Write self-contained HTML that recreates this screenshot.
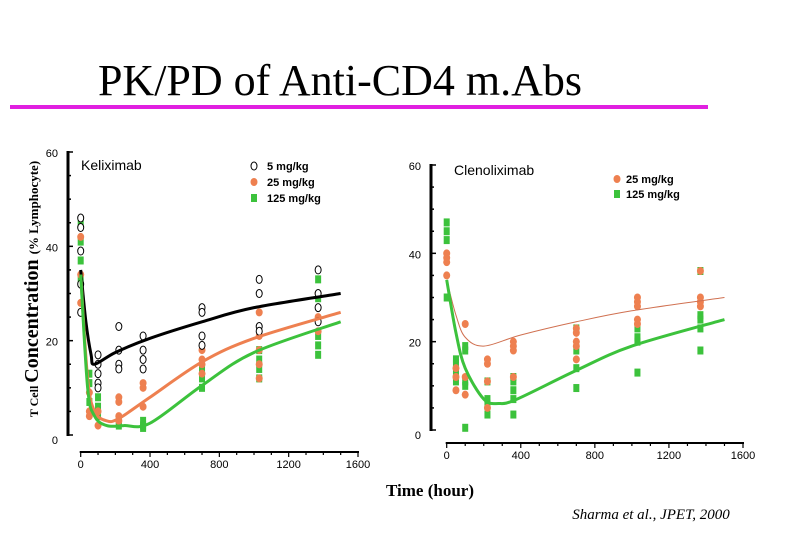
<!DOCTYPE html>
<html><head><meta charset="utf-8"><style>
body{margin:0;background:#fff}
svg{display:block}
text{font-family:"Liberation Sans",Arial,sans-serif}
</style></head><body>
<svg id="c" width="810" height="540" xmlns="http://www.w3.org/2000/svg">
<text x="340" y="95" text-anchor="middle" font-size="44" style="font-family:'Liberation Serif',serif">PK/PD of Anti-CD4 m.Abs</text>
<rect x="10" y="105" width="698" height="4" fill="#e020e0"/>
<text transform="translate(38,289) rotate(-90)" text-anchor="middle" style="font-family:'Liberation Serif',serif;font-weight:bold"><tspan font-size="12">T Cell </tspan><tspan font-size="20">Concentration </tspan><tspan font-size="13">(% Lymphocyte)</tspan></text>
<text x="430" y="496" text-anchor="middle" font-size="17" style="font-family:'Liberation Serif',serif;font-weight:bold">Time (hour)</text>
<text x="651" y="519" text-anchor="middle" font-size="15" style="font-family:'Liberation Serif',serif;font-style:italic">Sharma et al., JPET, 2000</text>
<g id="g"></g>
</svg>
<script>
const xTicks=[0,400,800,1200,1600];
const yTicks=[0,20,40,60];
// Keliximab data
const kTimes=[0,50,100,220,360,700,1030,1370];
const k5=[[46,44,39,32,26],[],[17,15,13,11,10],[23,18,15,14],[21,18,16,14],[27,26,21,19],[33,30,23,22],[35,30,27,24]];
const k25=[[42,34,28],[9,5,4],[5,2],[8,7,4,3],[11,10,6],[18,16,15,13],[26,21,18,15,12],[30,25,22]];
const k125=[[45,41,37,33],[13,11,7],[8,6,4],[3,2],[3,2,1.5],[14,12,10],[18,16,14,12],[33,29,21,19,17]];
const kFit5T=[0,30,60,80,200,400,700,1000,1500];
const kFit5V=[35,24,17,15,17.5,20.5,24,27,30];
const kFit25T=[0,40,80,150,220,400,700,1000,1500];
const kFit25V=[34,12,5,3,3.5,8,15.5,20.5,26];
const kFit125T=[0,40,80,150,250,400,700,1000,1500];
const kFit125V=[34,10,4,2,2,2.5,10.5,17.5,24];
// Clenoliximab data
const c25=[[40,39,38,35],[14,12,9],[24,12,8],[16,15,11,5],[20,19,18,12],[23,22,20,19,16],[30,29,28,25,24],[36,30,29,28]];
const c125=[[47,45,43,30],[16,15,13,11],[19,18,11,10,0.5],[11,7,6,3.5],[12,11,9,7,3.5],[23,18,14,9.5],[23,21,20,13],[36,26,25,23,18]];
const cFit25T=[0,50,100,200,400,700,1000,1500];
const cFit25V=[34,26,21,19,21.5,24.5,27,30];
const cFit125T=[0,50,100,200,280,380,700,1000,1500];
const cFit125V=[34,22,14,7,6,7,13.5,19,25];

const NS="http://www.w3.org/2000/svg";
const G=document.getElementById('g');
function mk(tag,at,parent){const e=document.createElementNS(NS,tag);for(const k in at)e.setAttribute(k,at[k]);(parent||G).appendChild(e);return e;}
function axes(p){
  p.sx=v=>p.x0+(p.x1-p.x0)*v/1600;
  p.sy=v=>p.y0-(p.y0-p.y60)*v/60;
  return p;
}
const L=axes({x0:80.7,x1:358,y0:435,y60:152,ax:68,xaxY:452,name:'keliximab'});
const R=axes({x0:446.7,x1:743,y0:430,y60:165,ax:431,xaxY:443,name:'clenoliximab'});
function drawAxes(p){
  const ya=mk('line',{x1:p.ax,x2:p.ax,y1:p.sy(60)-1,y2:p.sy(0)+1,stroke:'#000','stroke-width':3});
  
  for(let v=0;v<=60;v+=5){const t=mk('line',{x1:p.ax,x2:p.ax+(v%20==0?5:3),y1:p.sy(v),y2:p.sy(v),stroke:'#000','stroke-width':1.5});
  }
  yTicks.forEach(v=>{const t=mk('text',{x:p.ax-10,y:p.sy(v)+(v==0?9:5),'text-anchor':'end','font-size':11});t.textContent=v;
  });
  const xa=mk('line',{x1:p.sx(0)-1,x2:p.sx(1600)+1,y1:p.xaxY,y2:p.xaxY,stroke:'#000','stroke-width':2});
  
  for(let v=0;v<=1600;v+=100){const t=mk('line',{x1:p.sx(v),x2:p.sx(v),y1:p.xaxY,y2:p.xaxY+(v%400==0?5:3),stroke:'#000','stroke-width':1.2});
  }
  xTicks.forEach(v=>{const t=mk('text',{x:p.sx(v),y:p.xaxY+16,'text-anchor':'middle','font-size':11});t.textContent=v;
  });
}
function curve(p,T,V,color,w,name){
  const pts=T.map((t,i)=>[p.sx(t),p.sy(V[i])]);
  let d='M'+pts[0].join(',');
  for(let i=0;i<pts.length-1;i++){
    const p0=pts[Math.max(0,i-1)],p1=pts[i],p2=pts[i+1],p3=pts[Math.min(pts.length-1,i+2)];
    const c1=[p1[0]+(p2[0]-p0[0])/6,p1[1]+(p2[1]-p0[1])/6],c2=[p2[0]-(p3[0]-p1[0])/6,p2[1]-(p3[1]-p1[1])/6];
    d+=` C${c1.join(',')} ${c2.join(',')} ${p2.join(',')}`;
  }
  const e=mk('path',{d:d,fill:'none',stroke:color,'stroke-width':w});
  
}
function marker(x,y,type,name){
  let e;
  if(type=='o')e=mk('ellipse',{cx:x,cy:y,rx:3,ry:4,fill:'#fff',stroke:'#000','stroke-width':1});
  else if(type=='c')e=mk('ellipse',{cx:x,cy:y,rx:3.5,ry:4,fill:'#ee8050'});
  else e=mk('rect',{x:x-3,y:y-4,width:6,height:8,fill:'#3cc23c'});
  
}
function scatter(p,data,type,name){
  data.forEach((vals,i)=>vals.forEach(v=>marker(p.sx(kTimes[i]),p.sy(v),type,name)));
}
drawAxes(L);drawAxes(R);
scatter(L,k125,'s','keliximab-125-point');
scatter(L,k25,'c','keliximab-25-point');
scatter(L,k5,'o','keliximab-5-point');
curve(L,kFit5T,kFit5V,'#000',3,'keliximab-5-fit');
curve(L,kFit25T,kFit25V,'#ee8050',3,'keliximab-25-fit');
curve(L,kFit125T,kFit125V,'#3cc23c',3,'keliximab-125-fit');
scatter(R,c125,'s','clenoliximab-125-point');
scatter(R,c25,'c','clenoliximab-25-point');
curve(R,cFit25T,cFit25V,'#d07050',1,'clenoliximab-25-fit');
curve(R,cFit125T,cFit125V,'#3cc23c',3,'clenoliximab-125-fit');
function label(x,y,s,txt,name,bold){const t=mk('text',{x:x,y:y,'font-size':s});if(bold)t.setAttribute('font-weight','bold');t.textContent=txt;
}
label(81,170,14,'Keliximab','keliximab-panel-label');
label(454,175,14,'Clenoliximab','clenoliximab-panel-label');
marker(254,166,'o','legend-5-marker');label(267,170,11,'5 mg/kg','legend-5-label',true);
marker(254,182,'c','legend-25-marker');label(267,186,11,'25 mg/kg','legend-25-label',true);
marker(254,198,'s','legend-125-marker');label(267,202,11,'125 mg/kg','legend-125-label',true);
marker(617,179,'c','legend-c25-marker');label(626,183,11,'25 mg/kg','legend-c25-label',true);
marker(617,194,'s','legend-c125-marker');label(626,198,11,'125 mg/kg','legend-c125-label',true);
</script>
</body></html>
